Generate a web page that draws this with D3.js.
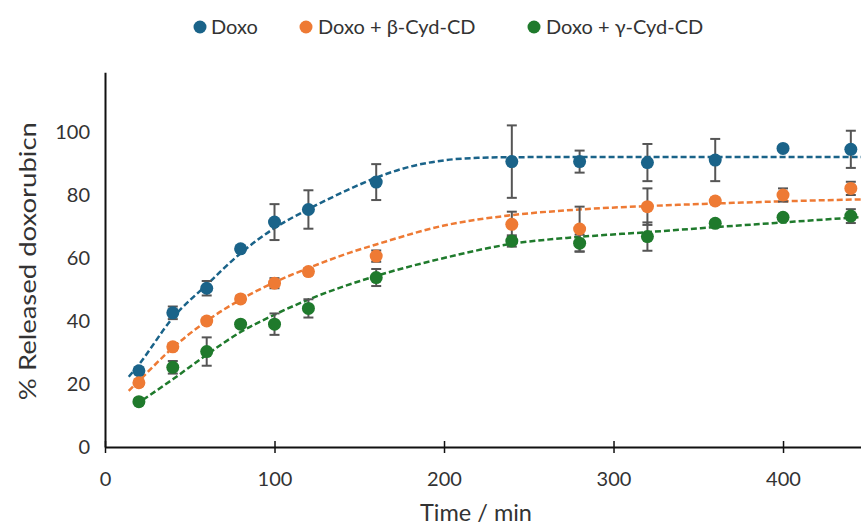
<!DOCTYPE html>
<html>
<head>
<meta charset="utf-8">
<script src="https://cdn.jsdelivr.net/npm/d3@7"></script>
<style>
  html, body { margin: 0; padding: 0; background: #fff; }
  svg { display: block; font-family: Lato, "Open Sans", sans-serif; }
</style>
</head>
<body>
<svg id="chart" width="861" height="529"></svg>
<script>
// Sampling times (min)
const times = [20, 40, 60, 80, 100, 120, 160, 240, 280, 320, 360, 400, 440];

// Mean released doxorubicin (%) and standard deviations
const doxo      = [24.2, 42.6, 50.4, 62.9, 71.4, 75.4, 84.1, 90.6, 90.6, 90.3, 91.1, 94.8, 94.5];
const doxoErr   = [1.0, 2.0, 2.3, 0.8, 5.7, 6.1, 5.7, 11.5, 3.5, 5.9, 6.7, 0.5, 5.9];
const beta      = [20.4, 31.8, 40.0, 47.0, 52.0, 55.7, 60.6, 70.7, 69.2, 76.3, 78.1, 80.0, 82.1];
const betaErr   = [1.0, 1.0, 1.0, 1.0, 1.6, 1.0, 1.8, 4.0, 7.1, 5.8, 1.0, 2.1, 2.1];
const gamma     = [14.4, 25.3, 30.3, 39.0, 39.0, 44.0, 53.8, 65.4, 64.7, 66.8, 71.0, 72.9, 73.3];
const gammaErr  = [1.0, 2.0, 4.5, 1.0, 3.4, 2.9, 2.7, 1.8, 2.7, 4.5, 1.0, 1.0, 2.2];

// Fitted release profiles (dashed trend curves)
const doxoFitT  = [14, 20, 40, 60, 80, 100, 120, 140, 160, 180, 200, 220, 240, 300, 446];
const doxoFit   = [22.3, 26.2, 41.0, 51.5, 61.5, 69.5, 75.5, 80.8, 85.5, 89.0, 91.0, 91.8, 92.0, 92.1, 92.1];
const betaFitT  = [14, 20, 40, 60, 80, 100, 120, 145, 160, 200, 240, 280, 320, 360, 400, 446];
const betaFit   = [17.8, 21.0, 31.5, 40.0, 46.8, 52.3, 56.8, 61.8, 64.3, 70.3, 73.6, 75.4, 76.5, 77.3, 78.0, 78.6];
const gammaFitT = [18, 40, 60, 80, 100, 120, 160, 200, 240, 280, 320, 360, 400, 446];
const gammaFit  = [13.4, 21.5, 29.3, 36.5, 42.0, 46.8, 54.3, 60.0, 64.5, 66.7, 68.2, 69.8, 71.3, 73.0];

// Axis ticks
const xTicks = [0, 100, 200, 300, 400];
const yTicks = [0, 20, 40, 60, 80, 100];

const seriesNames  = ["Doxo", "Doxo + β-Cyd-CD", "Doxo + γ-Cyd-CD"];
const seriesColors = ["#1a6389", "#ee7a34", "#1f7a2c"];

const series = [
  { name: seriesNames[0], color: seriesColors[0], y: doxo,  err: doxoErr,  fitT: doxoFitT,  fit: doxoFit },
  { name: seriesNames[1], color: seriesColors[1], y: beta,  err: betaErr,  fitT: betaFitT,  fit: betaFit },
  { name: seriesNames[2], color: seriesColors[2], y: gamma, err: gammaErr, fitT: gammaFitT, fit: gammaFit }
];

const svg = d3.select("#chart");

const x = d3.scaleLinear().domain([0, 446]).range([105, 861]);
const y = d3.scaleLinear().domain([0, 119]).range([447, 447 - 119 * 3.15]);

const ink = "#333333";

// Axes
const yAxisG = svg.append("g").attr("transform", `translate(${x(0)},0)`)
  .call(d3.axisLeft(y).tickValues(yTicks).tickSize(0).tickPadding(15).tickFormat(d3.format("d")));
yAxisG.select(".domain").attr("stroke", "#111").attr("stroke-width", 2);
yAxisG.selectAll("text").attr("fill", ink).style("font-size", "20px").style("font-family", "Lato, sans-serif");

const xAxisG = svg.append("g").attr("transform", `translate(0,${y(0)})`)
  .call(d3.axisBottom(x).tickValues(xTicks).tickSizeInner(6).tickSizeOuter(0).tickPadding(19).tickFormat(d3.format("d")));
xAxisG.select(".domain").attr("stroke", "#111").attr("stroke-width", 2);
xAxisG.selectAll(".tick line").attr("stroke", "#111").attr("stroke-width", 1.5).attr("y1", -6).attr("y2", 6);
xAxisG.selectAll("text").attr("fill", ink).style("font-size", "20px").style("font-family", "Lato, sans-serif");

// Axis titles
svg.append("text")
  .attr("x", 476).attr("y", 521)
  .attr("text-anchor", "middle")
  .attr("fill", ink)
  .style("font-size", "24px")
  .attr("textLength", 112)
  .attr("lengthAdjust", "spacingAndGlyphs")
  .text("Time / min");

svg.append("text")
  .attr("transform", `translate(36,${y(59)}) rotate(-90)`)
  .attr("text-anchor", "middle")
  .attr("fill", ink)
  .style("font-size", "24px")
  .attr("textLength", 278)
  .attr("lengthAdjust", "spacingAndGlyphs")
  .text("% Released doxorubicn");

// Fitted dashed curves
const line = d3.line().x(d => x(d[0])).y(d => y(d[1])).curve(d3.curveMonotoneX);
series.forEach(s => {
  svg.append("path")
    .datum(s.fitT.map((t, i) => [t, s.fit[i]]))
    .attr("d", line)
    .attr("fill", "none")
    .attr("stroke", s.color)
    .attr("stroke-width", 2.5)
    .attr("stroke-dasharray", "6,3");
});

// Error bars
const cap = 5;
series.forEach(s => {
  const g = svg.append("g");
  times.forEach((t, i) => {
    const cx = x(t), top = y(s.y[i] + s.err[i]), bot = y(s.y[i] - s.err[i]);
    g.append("line").attr("x1", cx).attr("x2", cx).attr("y1", top).attr("y2", bot)
      .attr("stroke", "#555").attr("stroke-width", 2);
    [top, bot].forEach(yy => g.append("line")
      .attr("x1", cx - cap).attr("x2", cx + cap).attr("y1", yy).attr("y2", yy)
      .attr("stroke", "#555").attr("stroke-width", 2));
  });
});

// Data markers
series.forEach(s => {
  svg.append("g").selectAll("circle")
    .data(times.map((t, i) => [t, s.y[i]]))
    .join("circle")
    .attr("cx", d => x(d[0]))
    .attr("cy", d => y(d[1]))
    .attr("r", 6.5)
    .attr("fill", s.color);
});

// Legend
const legendItems = [
  { dot: 200, text: 211 },
  { dot: 306, text: 318 },
  { dot: 534, text: 546 }
];
series.forEach((s, i) => {
  const li = legendItems[i];
  svg.append("circle").attr("cx", li.dot).attr("cy", 27).attr("r", 6.5).attr("fill", s.color);
  svg.append("text").attr("x", li.text).attr("y", 34)
    .attr("fill", ink).style("font-size", "20px").text(s.name);
});
</script>
</body>
</html>
